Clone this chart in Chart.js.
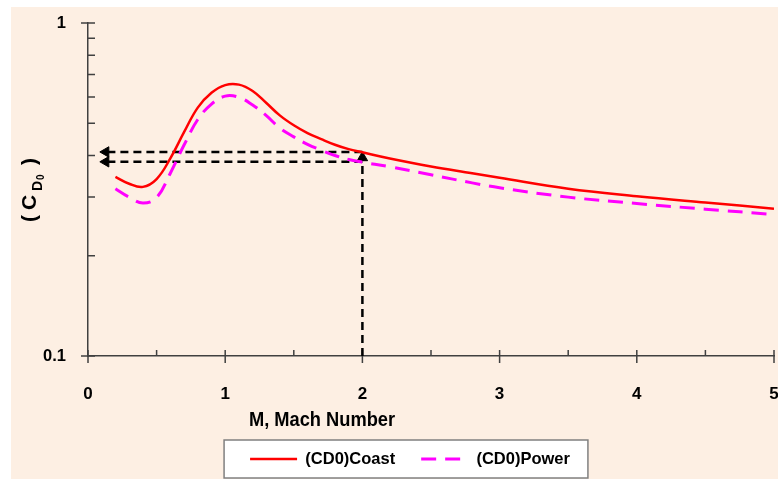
<!DOCTYPE html>
<html>
<head>
<meta charset="utf-8">
<script src="https://cdn.jsdelivr.net/npm/chart.js@4.4.0/dist/chart.umd.min.js"></script>
<style>
  html, body { margin: 0; padding: 0; background: #fff; }
  #wrap { position: relative; width: 778px; height: 479px; }
</style>
</head>
<body>
<div id="wrap"><canvas id="chart" width="778" height="479"></canvas></div>
<script>
// Mach number and zero-lift drag coefficient (log axis)
const mach = [0.2, 0.3, 0.4, 0.5, 0.6, 0.7, 0.8, 0.9, 1.0, 1.1, 1.2, 1.3, 1.4,
  1.5, 1.6, 1.7, 1.8, 1.9, 2.0, 2.2, 2.5, 2.8, 3.0, 3.5, 4.0, 4.5, 5.0];
const cd0_coast = [0.345, 0.329, 0.322, 0.340, 0.392, 0.470, 0.557, 0.617, 0.651, 0.653,
  0.625, 0.575, 0.527, 0.493, 0.467, 0.448, 0.431, 0.418, 0.409, 0.392, 0.371,
  0.354, 0.343, 0.318, 0.302, 0.289, 0.277];
const cd0_power = [0.318, 0.300, 0.288, 0.299, 0.354, 0.43, 0.513, 0.571, 0.603, 0.598,
  0.567, 0.527, 0.483, 0.455, 0.432, 0.415, 0.400, 0.389, 0.382, 0.370, 0.350,
  0.331, 0.320, 0.300, 0.287, 0.276, 0.266];

// read-off guide arrows at M = 2
const guide_coast_x = [2, 0.13];
const guide_coast_y = [0.41, 0.41];
const guide_power_x = [2, 0.13];
const guide_power_y = [0.383, 0.383];
const guide_mach_x = [2, 2];
const guide_mach_y = [0.1, 0.394];

const x_ticks = [0, 1, 2, 3, 4, 5];
const x_minor = [0.5, 1.5, 2.5, 3.5, 4.5];
const y_ticks = [0.1, 1];
const y_minor = [0.2, 0.3, 0.4, 0.5, 0.6, 0.7, 0.8, 0.9];

const FONT = '"Liberation Sans", Arial, sans-serif';
const AXIS = '#404040';
const PLOT_BOTTOM = 356;
const LEGEND_MID = 459;

const pts = (xs, ys) => xs.map((x, i) => ({ x, y: ys[i] }));

function guide(xs, ys, rotation) {
  return {
    label: 'guide',
    data: pts(xs, ys),
    borderColor: '#000',
    backgroundColor: '#000',
    borderWidth: 2.5,
    borderDash: [8, 5],
    pointRadius: [0, 6],
    pointHoverRadius: 0,
    pointStyle: 'triangle',
    pointRotation: rotation,
    pointBorderWidth: 1,
    pointBorderColor: '#000',
    pointBackgroundColor: '#000',
    tension: 0,
  };
}

// scale label overflow must not shrink the plot
function noOverflow(s) {
  s.paddingLeft = s.paddingRight = s.paddingTop = s.paddingBottom = 0;
}

function legendItems(chart) {
  return Chart.defaults.plugins.legend.labels.generateLabels(chart)
    .filter((item) => item.datasetIndex < 2)
    .map((item) => {
      const ds = chart.data.datasets[item.datasetIndex];
      return Object.assign(item, {
        pointStyle: 'line',
        strokeStyle: ds.borderColor,
        fillStyle: ds.borderColor,
        lineWidth: ds.borderWidth,
        lineDash: ds.borderDash || [],
        lineDashOffset: 0,
      });
    });
}

const decor = {
  id: 'decor',
  afterLayout(chart) {
    const lg = chart.legend;
    const pad = lg.options.labels.padding;
    const h = lg.height;
    lg.left += 23;
    lg.right += 23;
    lg.top = LEGEND_MID - pad - lg.options.labels.font.size / 2;
    lg.bottom = lg.top + h;
  },
  beforeDraw(chart) {
    const ctx = chart.ctx;
    ctx.save();
    ctx.fillStyle = '#fdefe3';
    ctx.fillRect(11, 7, chart.width - 11, chart.height - 7);

    const boxes = chart.legend.legendHitBoxes;
    if (boxes && boxes.length) {
      const l = Math.min(...boxes.map((b) => b.left)) - 26;
      const r = Math.max(...boxes.map((b) => b.left + b.width)) + 18;
      ctx.fillStyle = '#fff';
      ctx.fillRect(l, LEGEND_MID - 19, r - l, 38);
      ctx.strokeStyle = '#808080';
      ctx.lineWidth = 1.5;
      ctx.strokeRect(l, LEGEND_MID - 19, r - l, 38);
    }
    ctx.restore();
  },
  beforeDatasetsDraw(chart) {
    const ctx = chart.ctx;
    const xs = chart.scales.x, ys = chart.scales.y;
    const ax = xs.getPixelForValue(0);
    const ay = ys.getPixelForValue(0.1);
    ctx.save();
    ctx.strokeStyle = AXIS;
    ctx.lineWidth = 1.5;
    ctx.beginPath();
    y_ticks.forEach((v) => {
      const p = ys.getPixelForValue(v);
      ctx.moveTo(ax - 7, p); ctx.lineTo(ax + 7, p);
    });
    y_minor.forEach((v) => {
      const p = ys.getPixelForValue(v);
      ctx.moveTo(ax, p); ctx.lineTo(ax + 7, p);
    });
    x_ticks.forEach((v) => {
      const p = xs.getPixelForValue(v);
      ctx.moveTo(p, ay - 6); ctx.lineTo(p, ay + 7);
    });
    x_minor.forEach((v) => {
      const p = xs.getPixelForValue(v);
      ctx.moveTo(p, ay - 6); ctx.lineTo(p, ay);
    });
    ctx.stroke();
    ctx.restore();
  },
  afterDraw(chart) {
    const ctx = chart.ctx;
    ctx.save();
    ctx.fillStyle = '#000';

    // x title, narrow bold
    ctx.save();
    ctx.translate(322, 420);
    ctx.scale(0.87, 1);
    ctx.font = 'bold 21px ' + FONT;
    ctx.textAlign = 'center';
    ctx.textBaseline = 'middle';
    ctx.fillText('M, Mach Number', 0, 0);
    ctx.restore();

    // y title: ( C_D0 ) with subscripts, rotated
    ctx.translate(36, 222);
    ctx.rotate(-Math.PI / 2);
    ctx.textAlign = 'left';
    ctx.textBaseline = 'alphabetic';
    ctx.font = 'bold 21px ' + FONT;
    ctx.fillText('(', 0, 0);
    ctx.fillText('C', 12, 0);
    ctx.font = 'bold 14px ' + FONT;
    ctx.fillText('D', 31, 6);
    ctx.font = 'bold 10px ' + FONT;
    ctx.fillText('0', 42, 8);
    ctx.font = 'bold 21px ' + FONT;
    ctx.fillText(')', 57, 0);
    ctx.restore();
  },
};

new Chart(document.getElementById('chart'), {
  type: 'line',
  data: {
    datasets: [
      {
        label: '(CD0)Coast',
        data: pts(mach, cd0_coast),
        borderColor: '#ff0000',
        backgroundColor: '#ff0000',
        borderWidth: 2.5,
        pointRadius: 0,
        tension: 0.4,
      },
      {
        label: '(CD0)Power',
        data: pts(mach, cd0_power),
        borderColor: '#ff00ff',
        backgroundColor: '#ff00ff',
        borderWidth: 3,
        borderDash: [15, 9],
        pointRadius: 0,
        tension: 0.4,
      },
      guide(guide_coast_x, guide_coast_y, 270),
      guide(guide_power_x, guide_power_y, 270),
      guide(guide_mach_x, guide_mach_y, 0),
    ],
  },
  options: {
    responsive: false,
    animation: false,
    devicePixelRatio: 1,
    layout: { autoPadding: false, padding: { left: 0, right: 4, top: 23, bottom: 0 } },
    plugins: {
      tooltip: { enabled: false },
      legend: {
        position: 'bottom',
        labels: {
          generateLabels: legendItems,
          usePointStyle: true,
          pointStyle: 'line',
          pointStyleWidth: 47,
          padding: 26,
          color: '#000',
          font: { family: FONT, size: 16.5, weight: 'bold' },
        },
      },
    },
    scales: {
      x: {
        type: 'linear',
        min: 0,
        max: 5,
        afterBuildTicks: (s) => { s.ticks = x_ticks.map((v) => ({ value: v })); },
        afterFit: (s) => {
          s.height = s.chart.height - PLOT_BOTTOM - s.chart.legend.height;
          noOverflow(s);
        },
        grid: { display: false },
        border: { display: true, color: AXIS, width: 1.5 },
        ticks: {
          padding: 20,
          color: '#000',
          maxRotation: 0,
          font: { family: FONT, size: 17, weight: 'bold' },
          callback: (v) => String(v),
        },
      },
      y: {
        type: 'logarithmic',
        min: 0.1,
        max: 1,
        afterBuildTicks: (s) => { s.ticks = y_ticks.map((v) => ({ value: v })); },
        afterFit: (s) => { s.width = 88; noOverflow(s); },
        grid: { display: false },
        border: { display: true, color: AXIS, width: 1.5 },
        ticks: {
          padding: 14,
          color: '#000',
          font: { family: FONT, size: 16.5, weight: 'bold' },
          callback: (v) => String(v),
        },
      },
    },
  },
  plugins: [decor],
});
</script>
</body>
</html>
